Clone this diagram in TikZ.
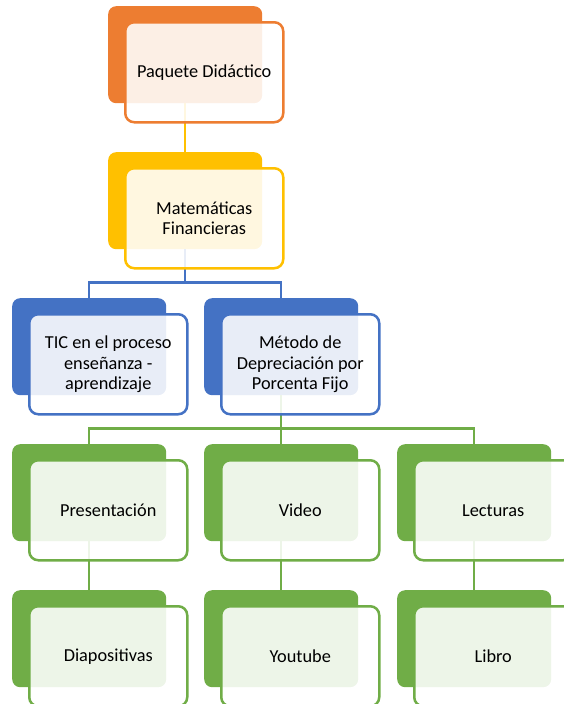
\documentclass[tikz,border=0pt]{standalone}
\usepackage{fontspec}
\setmainfont{Carlito}
\usepackage{xcolor}
\usetikzlibrary{positioning}

\definecolor{naranja}{HTML}{ED7D31}
\definecolor{oro}{HTML}{FFC000}
\definecolor{azul}{HTML}{4472C4}
\definecolor{verde}{HTML}{70AD47}

\tikzset{
  fondo/.style={fill=#1, rounded corners=8pt, minimum width=154pt, minimum height=97pt, inner sep=0pt, anchor=north west},
  caja/.style={draw=#1, line width=2.5pt, fill=white, fill opacity=0.88, text opacity=1, rounded corners=9pt,
    minimum width=158pt, minimum height=100pt, inner sep=0pt, align=center, font=\fontsize{18.3}{20.5}\selectfont},
  linea/.style={draw=#1, line width=2.5pt}
}

\begin{document}
\begin{tikzpicture}[x=1pt,y=-1pt]
  \useasboundingbox (0,0) rectangle (564,704);
  % coloured back plates
  \node[fondo=naranja] (paqfondo) at (108,6) {};
  \node[fondo=oro] (matfondo) at (108,152) {};
  \node[fondo=azul] (ticfondo) at (12,298) {};
  \node[fondo=azul] (metfondo) at (204,298) {};
  \node[fondo=verde] (presfondo) at (12,444) {};
  \node[fondo=verde] (vidfondo) at (204,444) {};
  \node[fondo=verde] (lecfondo) at (397,444) {};
  \node[fondo=verde] (diapfondo) at (12,590) {};
  \node[fondo=verde] (youfondo) at (204,590) {};
  \node[fondo=verde] (libfondo) at (397,590) {};
  % connectors
  \draw[linea=oro] (paqfondo.south) -- (matfondo.north);
  \draw[linea=azul] (matfondo.south) -- ++(0,33) coordinate (ramaazul) -| (ticfondo.north);
  \draw[linea=azul] (ramaazul) -| (metfondo.north);
  \draw[linea=verde] (metfondo.south) -- ++(0,33) coordinate (ramaverde) -| (presfondo.north);
  \draw[linea=verde] (ramaverde) -| (lecfondo.north);
  \draw[linea=verde] (ramaverde) -- (vidfondo.north);
  \draw[linea=verde] (presfondo.south) -- (diapfondo.north);
  \draw[linea=verde] (vidfondo.south) -- (youfondo.north);
  \draw[linea=verde] (lecfondo.south) -- (libfondo.north);
  % front boxes with the texts
  \node[caja=naranja, below right=15pt and 16pt of paqfondo.north west] (paquete) {Paquete Didáctico};
  \node[caja=oro, below right=15pt and 16pt of matfondo.north west] (mate) {Matemáticas\\Financieras};
  \node[caja=azul, below right=15pt and 16pt of ticfondo.north west] (tic) {TIC en el proceso\\enseñanza -\\aprendizaje};
  \node[caja=azul, below right=15pt and 16pt of metfondo.north west] (metodo) {Método de\\Depreciación por\\Porcenta Fijo};
  \node[caja=verde, below right=15pt and 16pt of presfondo.north west] (present) {Presentación};
  \node[caja=verde, below right=15pt and 16pt of vidfondo.north west] (video) {Video};
  \node[caja=verde, below right=15pt and 16pt of lecfondo.north west] (lecturas) {Lecturas};
  \node[caja=verde, below right=15pt and 16pt of diapfondo.north west] (diapos) {Diapositivas};
  \node[caja=verde, below right=15pt and 16pt of youfondo.north west] (youtube) {Youtube};
  \node[caja=verde, below right=15pt and 16pt of libfondo.north west] (libro) {Libro};
\end{tikzpicture}
\end{document}
